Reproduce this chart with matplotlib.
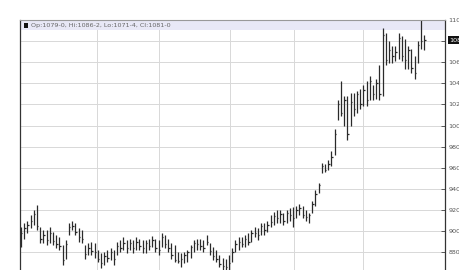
import numpy as np
import matplotlib
matplotlib.use("Agg")
import matplotlib.pyplot as plt
from matplotlib.patches import Rectangle

# daily price bars
highs = [904, 908, 910, 915, 920, 925, 904, 901, 901, 904, 899, 896, 894, 887, 892, 908,
         910, 908, 903, 901, 887, 889, 890, 889, 882, 879, 880, 882, 884, 882, 890, 892,
         894, 892, 893, 892, 894, 893, 892, 892, 893, 895, 893, 892, 898, 896, 893, 889,
         887, 880, 879, 880, 882, 887, 892, 893, 893, 892, 896, 889, 885, 882, 877, 875,
         874, 877, 884, 892, 894, 894, 896, 898, 901, 904, 903, 908, 908, 910, 915, 918,
         920, 920, 917, 920, 922, 923, 924, 926, 924, 920, 917, 929, 939, 946, 965, 964,
         967, 976, 997, 1024, 1042, 1028, 1028, 1031, 1031, 1033, 1035, 1038, 1042, 1047,
         1038, 1044, 1057, 1092, 1088, 1080, 1075, 1075, 1088, 1085, 1082, 1075, 1073,
         1066, 1080, 1101, 1086.25]
lows = [885, 893, 898, 903, 906, 901, 889, 889, 887, 889, 887, 884, 882, 868, 874, 896,
        901, 896, 890, 889, 874, 877, 877, 875, 871, 865, 868, 871, 873, 868, 877, 880,
        882, 879, 882, 879, 882, 882, 879, 879, 882, 885, 880, 877, 885, 884, 880, 874,
        871, 870, 866, 870, 871, 875, 880, 882, 882, 880, 887, 877, 873, 871, 866, 863,
        863, 863, 871, 880, 882, 885, 885, 887, 890, 894, 892, 896, 896, 899, 904, 906,
        908, 908, 906, 908, 910, 904, 912, 915, 912, 910, 908, 917, 924, 936, 955, 956,
        958, 962, 972, 1005, 1009, 1000, 986, 1000, 1009, 1012, 1016, 1019, 1019, 1024,
        1024, 1025, 1024, 1028, 1057, 1059, 1059, 1061, 1063, 1061, 1054, 1054, 1050,
        1044, 1059, 1073, 1071.5]
closes = [898, 903, 906, 910, 916, 905, 893, 896, 892, 898, 891, 888, 886, 873, 888, 904,
          905, 899, 894, 893, 878, 884, 881, 880, 874, 870, 876, 875, 880, 874, 886, 884,
          889, 884, 889, 884, 890, 886, 884, 889, 886, 892, 884, 882, 894, 888, 884, 877,
          873, 872, 874, 877, 880, 885, 889, 888, 886, 884, 890, 881, 876, 874, 869, 867,
          866, 870, 880, 888, 890, 888, 893, 890, 898, 898, 896, 905, 901, 906, 909, 914,
          912, 916, 910, 917, 915, 912, 920, 922, 915, 913, 915, 926, 935, 944, 962, 958,
          964, 970, 992, 1020, 1012, 1024, 992, 1022, 1016, 1030, 1020, 1034, 1024, 1042,
          1030, 1040, 1030, 1086, 1062, 1072, 1066, 1070, 1083, 1066, 1062, 1072, 1055,
          1050, 1076, 1080, 1081]
month_lines = [23.7, 43.2, 65.3, 85.3, 106.9]
price_ticks = list(range(880, 1101, 20))
last_close = 1081
header = "Op:1079-0, Hi:1086-2, Lo:1071-4, Cl:1081-0"

x = np.arange(len(highs))

fig = plt.figure(figsize=(4.6, 2.7), dpi=100)
# axes runs off the bottom of the picture like the original screenshot
ax = fig.add_axes([20/460, 1 - 294.5/270, 425/460, 274.5/270])
ax.set_xlim(-0.3, 132.5)
ax.set_ylim(840, 1099)

ax.set_yticks(price_ticks)
ax.set_xticks(month_lines)
ax.grid(True, color="#d8d8d8", linewidth=0.7)
ax.set_axisbelow(True)
ax.yaxis.tick_right()
ax.tick_params(axis="y", direction="in", length=3, width=0.6, color="#444",
               labelsize=4.6, labelcolor="#555", pad=2.5)
ax.tick_params(axis="x", length=0, labelbottom=False)
for s in ["left", "right"]:
    ax.spines[s].set_color("#333")
    ax.spines[s].set_linewidth(0.9)
ax.spines["top"].set_color("#999")
ax.spines["top"].set_linewidth(0.8)

ax.vlines(x, lows, highs, color="#2a2a2a", linewidth=0.9)
ax.hlines(closes, x, x + 0.45, color="#2a2a2a", linewidth=0.9)

# header band
ax.add_patch(Rectangle((0, 1 - 10/274.5), 1, 10/274.5, transform=ax.transAxes,
                       facecolor="#e8e8f6", edgecolor="none", zorder=1))
ax.add_patch(Rectangle((4/425, 1 - 7.5/274.5), 4/425, 4.5/274.5, transform=ax.transAxes,
                       facecolor="#111", edgecolor="none", zorder=3))
ax.text(11/425, 1 - 5/274.5, header, transform=ax.transAxes, fontsize=4.6,
        color="#666", va="center", ha="left", zorder=3)

# last price marker
ax.text(1.0 + 4/425, last_close, str(last_close), transform=ax.get_yaxis_transform(),
        fontsize=4.6, color="white", va="center", ha="left", clip_on=False, zorder=5,
        bbox=dict(boxstyle="square,pad=0.2", facecolor="#111", edgecolor="none"))

fig.savefig("out.png", dpi=100)
